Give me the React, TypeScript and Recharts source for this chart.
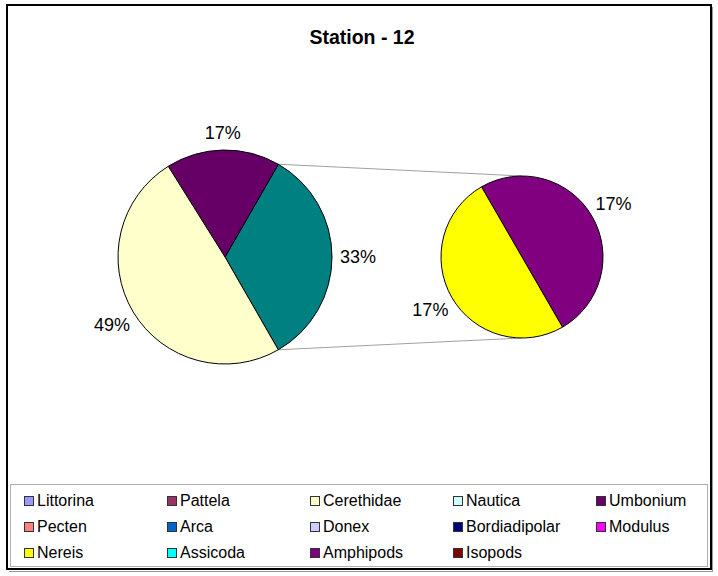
import React from 'react';
import { PieChart, Pie, Cell, Legend, Customized } from 'recharts';

const TITLE = 'Station - 12';

const species = ['Littorina', 'Pattela', 'Cerethidae', 'Nautica', 'Umbonium', 'Pecten', 'Arca', 'Donex', 'Bordiadipolar', 'Modulus', 'Nereis', 'Assicoda', 'Amphipods', 'Isopods'];
const speciesColors = ['#9999FF', '#993366', '#FFFFCC', '#CCFFFF', '#660066', '#FF8080', '#0066CC', '#CCCCFF', '#000080', '#FF00FF', '#FFFF00', '#00FFFF', '#800080', '#800000'];
const speciesValues = [0, 0, 49.4, 0, 17.2, 0, 0, 0, 0, 0, 16.7, 0, 16.7, 0];

// species moved to the secondary pie (in drawing order)
const secondaryNames = ['Amphipods', 'Nereis'];
const OTHER_COLOR = '#008080';

const total = speciesValues.reduce((a, b) => a + b, 0);
const colorOf = (n: string) => speciesColors[species.indexOf(n)];
const valueOf = (n: string) => speciesValues[species.indexOf(n)];

const secondaryData = secondaryNames.map((n) => ({ name: n, value: valueOf(n), color: colorOf(n) }));
const otherValue = secondaryData.reduce((a, d) => a + d.value, 0);
const mainData = [
  { name: 'Other', value: otherValue, color: OTHER_COLOR },
  ...species
    .map((n, i) => ({ name: n, value: speciesValues[i], color: speciesColors[i] }))
    .filter((d) => d.value > 0 && !secondaryNames.includes(d.name))
    .sort((a, b) => a.value - b.value),
];

const MAIN = { cx: 225, cy: 257, r: 107 };
const SEC = { cx: 522, cy: 257, r: 81 };
const otherAngle = (otherValue / total) * 360;
const MAIN_START = -otherAngle / 2;
const SEC_START = -60;

const FONT = '"Liberation Sans", Arial, sans-serif';
const RAD = Math.PI / 180;

const renderLabel = (props: any) => {
  const { cx, cy, midAngle, outerRadius, value } = props;
  const c = Math.abs(Math.cos(midAngle * RAD));
  const rr = outerRadius + 17 + 9 * c;
  const x = cx + rr * Math.cos(midAngle * RAD);
  const y = cy - rr * Math.sin(midAngle * RAD);
  return (
    <text x={x} y={y} textAnchor="middle" dominantBaseline="central" fontFamily={FONT} fontSize={18} fill="#000">
      {Math.round((value / total) * 100) + '%'}
    </text>
  );
};

const Connectors = () => {
  const a1 = (MAIN_START + otherAngle) * RAD;
  const a2 = MAIN_START * RAD;
  const p1 = { x: MAIN.cx + MAIN.r * Math.cos(a1), y: MAIN.cy - MAIN.r * Math.sin(a1) };
  const p2 = { x: MAIN.cx + MAIN.r * Math.cos(a2), y: MAIN.cy - MAIN.r * Math.sin(a2) };
  return (
    <g>
      <rect x={7} y={5} width={704} height={564} fill="none" stroke="#000" strokeWidth={2} />
      <line x1={712.5} y1={7} x2={712.5} y2={571} stroke="#999" strokeWidth={1} />
      <line x1={9} y1={571.5} x2={713} y2={571.5} stroke="#999" strokeWidth={1} />
      <text x={362} y={44} textAnchor="middle" fontFamily={FONT} fontSize={19.5} fontWeight="bold" fill="#000">
        {TITLE}
      </text>
      <line x1={p1.x} y1={p1.y} x2={SEC.cx} y2={SEC.cy - SEC.r} stroke="#a0a0a0" strokeWidth={1} />
      <line x1={p2.x} y1={p2.y} x2={SEC.cx} y2={SEC.cy + SEC.r} stroke="#a0a0a0" strokeWidth={1} />
    </g>
  );
};

const LegendContent = () => (
  <div
    style={{
      position: 'absolute',
      left: 10,
      top: 484,
      width: 698,
      height: 83,
      boxSizing: 'border-box',
      border: '1px solid #b0b0b0',
      fontFamily: FONT,
      fontSize: 16,
      color: '#000',
    }}
  >
    {species.map((n, i) => {
      const col = i % 5;
      const row = Math.floor(i / 5);
      return (
        <div
          key={n}
          style={{
            position: 'absolute',
            left: 13 + col * 143,
            top: 6 + row * 26,
            height: 20,
            display: 'flex',
            alignItems: 'center',
            whiteSpace: 'nowrap',
          }}
        >
          <span
            style={{
              display: 'inline-block',
              width: 8,
              height: 8,
              background: speciesColors[i],
              border: '1px solid #333',
              marginRight: 3,
            }}
          />
          <span>{n}</span>
        </div>
      );
    })}
  </div>
);

export default function App() {
  return (
    <div style={{ position: 'absolute', left: 0, top: 0, width: 718, height: 576, background: '#fff' }}>
      <PieChart width={718} height={576} margin={{ top: 0, right: 0, bottom: 0, left: 0 }}>
        <Customized component={Connectors} />
        <Pie
          data={mainData}
          dataKey="value"
          nameKey="name"
          cx={MAIN.cx}
          cy={MAIN.cy}
          outerRadius={MAIN.r}
          startAngle={MAIN_START}
          endAngle={MAIN_START + 360}
          stroke="#000"
          strokeWidth={1}
          label={renderLabel}
          labelLine={false}
          isAnimationActive={false}
        >
          {mainData.map((d) => (
            <Cell key={d.name} fill={d.color} />
          ))}
        </Pie>
        <Pie
          data={secondaryData}
          dataKey="value"
          nameKey="name"
          cx={SEC.cx}
          cy={SEC.cy}
          outerRadius={SEC.r}
          startAngle={SEC_START}
          endAngle={SEC_START + 360}
          stroke="#000"
          strokeWidth={1}
          label={renderLabel}
          labelLine={false}
          isAnimationActive={false}
        >
          {secondaryData.map((d) => (
            <Cell key={d.name} fill={d.color} />
          ))}
        </Pie>
        <Legend content={LegendContent} wrapperStyle={{ position: 'absolute', left: 0, top: 0, width: 0, height: 0 }} />
      </PieChart>
    </div>
  );
}
